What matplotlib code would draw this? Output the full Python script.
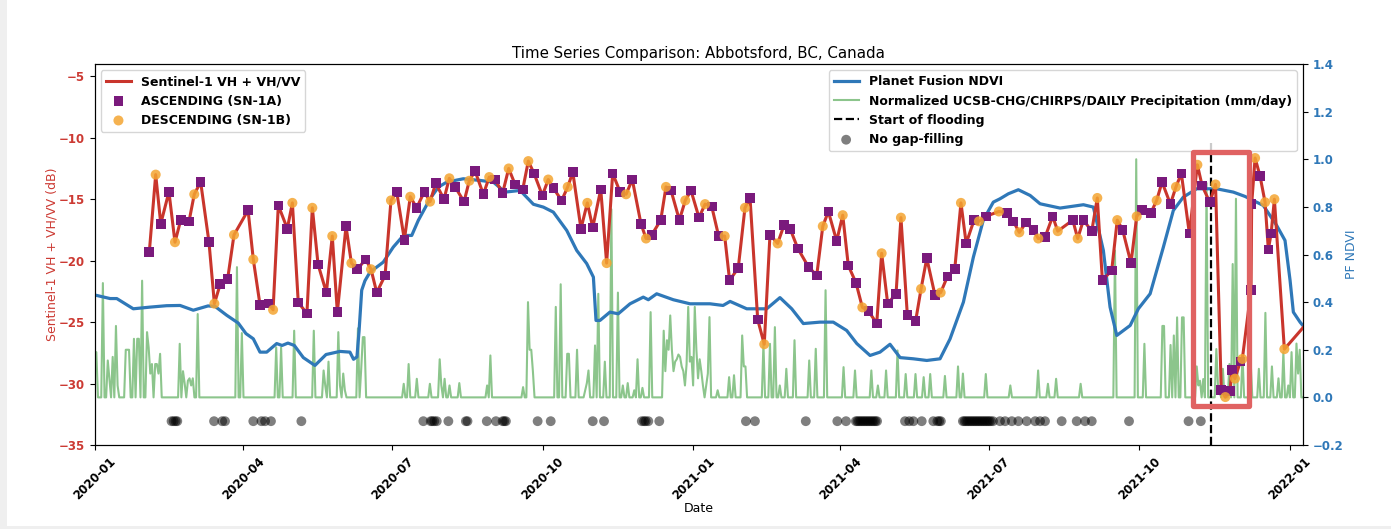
import numpy as np
import pandas as pd
import matplotlib
matplotlib.use("Agg")
import matplotlib.pyplot as plt
import matplotlib.dates as mdates
from matplotlib.patches import Rectangle

START = pd.Timestamp("2020-01-01")


def to_dates(days):
    """Convert day offsets (days since 2020-01-01) to timestamps."""
    return START + pd.to_timedelta(np.asarray(days, dtype=float), unit="D")


# ---------------- Sentinel-1 backscatter (VH + VH/VV, dB) ----------------
# acquisition day (days since 2020-01-01), value, orbit pass (A = ascending, D = descending)
s1_day = [
    33.4, 37.3, 40.4, 45.4, 49.1, 52.6, 57.7, 60.9, 64.8, 69.9,
    73.2, 76.8, 81.3, 85.2, 93.8, 97.0, 101.1, 106.2, 109.1, 112.3,
    117.8, 120.9, 124.5, 129.8, 133.1, 136.6, 141.7, 145.3, 148.4, 153.7,
    157.0, 160.6, 165.7, 169.0, 172.5, 177.6, 181.2, 184.7, 189.4, 193.0,
    196.9, 201.6, 205.1, 208.6, 213.6, 216.9, 220.4, 225.9, 229.1, 232.6,
    237.7, 241.3, 244.8, 249.5, 253.2, 257.1, 261.8, 265.2, 268.7, 273.8,
    277.4, 280.5, 285.6, 289.3, 292.4, 297.4, 301.3, 304.6, 309.5, 313.1,
    316.8, 321.3, 325.0, 328.8, 334.1, 337.2, 340.7, 346.2, 349.4, 352.5,
    357.6, 361.2, 364.7, 369.6, 373.3, 377.4, 381.6, 385.3, 388.3, 393.6,
    397.7, 400.8, 405.5, 409.5, 413.0, 417.7, 421.6, 425.3, 430.0, 436.5,
    441.6, 445.3, 448.7, 453.8, 457.5, 460.9, 465.6, 469.5, 473.2, 478.3,
    481.3, 485.0, 490.1, 493.1, 497.0, 502.1, 505.4, 508.9, 513.9, 517.4,
    521.5, 526.0, 529.8, 533.0, 537.8, 540.8, 545.0, 553.0, 557.8, 561.8,
    565.5, 569.6, 574.1, 577.1, 581.2, 585.9, 589.0, 598.2, 601.2, 604.7,
    609.8, 613.2, 616.3, 622.0, 625.4, 628.7, 633.8, 637.3, 640.4, 646.0,
    649.5, 652.8, 657.9, 661.3, 664.6, 669.5, 674.4, 677.3, 682.0, 685.5,
    689.0, 691.5, 694.4, 695.4, 697.4, 700.7, 701.9, 707.2, 707.6, 709.7,
    712.7, 715.8, 717.8, 719.5, 721.5, 727.6, 742.0,
]
s1_db = [
    -19.3, -13.0, -17.0, -14.4, -18.5, -16.7, -16.8, -14.6, -13.6, -18.5,
    -23.5, -21.9, -21.5, -17.9, -15.9, -19.9, -23.6, -23.5, -24.0, -15.5,
    -17.4, -15.3, -23.4, -24.3, -15.7, -20.3, -22.6, -18.0, -24.2, -17.2,
    -20.2, -20.7, -19.9, -20.7, -22.6, -21.2, -15.1, -14.4, -18.3, -14.8,
    -15.7, -14.4, -15.2, -13.7, -15.0, -13.3, -14.0, -15.2, -13.5, -12.7,
    -14.6, -13.2, -13.4, -14.5, -12.5, -13.8, -14.2, -11.9, -12.9, -14.7,
    -13.4, -14.1, -15.1, -14.0, -12.8, -17.4, -15.3, -17.3, -14.2, -20.2,
    -12.9, -14.4, -14.6, -13.4, -17.0, -18.2, -17.9, -16.7, -14.0, -14.3,
    -16.7, -15.1, -14.3, -16.5, -15.4, -15.6, -18.0, -18.0, -21.6, -20.6,
    -15.7, -14.9, -24.8, -26.8, -17.9, -18.6, -17.1, -17.4, -19.0, -20.5,
    -21.2, -17.2, -16.0, -18.4, -16.3, -20.4, -21.8, -23.8, -24.1, -25.1,
    -19.4, -23.5, -22.7, -16.5, -24.4, -24.9, -22.3, -19.8, -22.8, -22.6,
    -21.3, -20.7, -15.3, -18.6, -16.7, -16.8, -16.4, -16.0, -16.1, -16.8,
    -17.7, -16.9, -17.5, -18.2, -18.1, -16.4, -17.6, -16.7, -18.2, -16.7,
    -17.6, -14.9, -21.6, -20.8, -16.7, -17.5, -20.2, -16.4, -15.9, -16.1,
    -15.1, -13.6, -15.4, -14.0, -12.9, -17.8, -12.2, -13.9, -15.25, -13.8,
    -30.5, -31.1, -30.6, -28.9, -29.6, -28.2, -28.0, -22.4, -15.4, -11.65,
    -13.1, -15.25, -19.1, -17.8, -15.0, -27.2, -25.0,
]
s1_pass = list(
    "ADAADAADAA" "DAADADAADA" "ADAADAADAA" "DAADAADAAD"
    "AADAADAADA" "ADAADAADAA" "DAADAADAAD" "AADAADAADA"
    "ADAADAADAA" "DAADADAAAA" "ADAADAADAA" "DAADAADAAD"
    "AADAADADAA" "DAADAADADA" "ADAADAADAA" "DAADAADAAD"
    "ADAADADAAD" "ADAADDA"
)

# ---------------- Planet Fusion NDVI ----------------
ndvi_day = [
    0, 9.4, 13.5, 23.6, 33.8, 44.0, 52.2, 60.3, 69.3, 73.6,
    80.7, 87.8, 92.5, 97.0, 101.1, 105.2, 111.3, 114.6, 118.2, 122.1,
    127.6, 134.7, 141.5, 150.0, 156.1, 158.3, 160.4, 161.7, 163.3, 165.3,
    168.4, 176.5, 182.6, 188.8, 193.9, 197.9, 205.1, 210.2, 215.3, 225.4,
    235.7, 243.8, 251.0, 260.2, 268.3, 274.4, 280.5, 288.7, 294.8, 300.9,
    305.0, 306.6, 309.0, 315.1, 320.2, 327.4, 335.5, 338.6, 343.7, 353.9,
    364.1, 376.3, 384.3, 388.6, 398.8, 411.0, 419.1, 426.3, 433.4, 443.6,
    451.7, 459.9, 466.1, 474.2, 480.3, 486.4, 492.6, 500.7, 508.9, 517.0,
    523.1, 531.3, 537.4, 543.5, 549.6, 553.7, 558.8, 564.9, 572.1, 578.2,
    590.4, 604.7, 610.8, 616.9, 621.0, 625.1, 633.3, 638.3, 645.5, 653.6,
    659.7, 665.8, 674.0, 686.2, 696.4, 703.5, 714.7, 722.9, 728.0, 731.1,
    733.1, 737.2, 739.7,
]
ndvi_val = [
    0.430, 0.415, 0.415, 0.372, 0.379, 0.385, 0.386, 0.366, 0.384, 0.382,
    0.345, 0.312, 0.268, 0.246, 0.190, 0.190, 0.226, 0.218, 0.228, 0.218,
    0.167, 0.134, 0.180, 0.193, 0.190, 0.160, 0.170, 0.280, 0.450, 0.490,
    0.526, 0.568, 0.631, 0.680, 0.680, 0.743, 0.834, 0.883, 0.904, 0.918,
    0.911, 0.904, 0.862, 0.869, 0.811, 0.799, 0.778, 0.701, 0.617, 0.562,
    0.505, 0.323, 0.323, 0.358, 0.351, 0.393, 0.421, 0.410, 0.435, 0.410,
    0.393, 0.393, 0.386, 0.403, 0.372, 0.372, 0.419, 0.372, 0.310, 0.316,
    0.316, 0.281, 0.226, 0.176, 0.190, 0.223, 0.167, 0.162, 0.155, 0.162,
    0.245, 0.400, 0.589, 0.745, 0.820, 0.834, 0.855, 0.872, 0.848, 0.813,
    0.795, 0.809, 0.799, 0.617, 0.379, 0.260, 0.302, 0.372, 0.435, 0.631,
    0.785, 0.841, 0.876, 0.876, 0.862, 0.844, 0.806, 0.722, 0.659, 0.491,
    0.358, 0.316, 0.295,
]

# ---------------- Normalized CHIRPS daily precipitation (rain days) ----------------
rain_day = [
    0, 1, 5, 8, 9, 11, 13, 14, 19, 20, 21, 24, 26, 27, 29, 32, 33, 34, 35, 37,
    38, 39, 40, 52, 54, 55, 57, 58, 59, 60, 63, 87, 90, 111, 114, 122, 134, 140,
    141, 143, 149, 150, 152, 153, 161, 163, 164, 165, 189, 192, 197, 205, 211,
    212, 214, 217, 223, 240, 242, 262, 265, 266, 267, 268, 282, 285, 289, 290,
    295, 300, 301, 302, 306, 308, 312, 316, 320, 323, 326, 330, 332, 335, 340,
    348, 349, 350, 351, 352, 353, 354, 355, 356, 357, 358, 359, 360, 361, 362,
    363, 364, 365, 366, 367, 368, 369, 370, 371, 372, 374, 375, 376, 381, 388,
    391, 396, 397, 398, 409, 413, 416, 419, 423, 428, 437, 441, 447, 458, 465,
    475, 479, 484, 491, 496, 502, 507, 511, 520, 528, 531, 545, 560, 577, 583,
    588, 603, 624, 637, 642, 653, 654, 658, 660, 662, 665, 666, 674, 675, 676,
    678, 680, 686, 687, 688, 690, 694, 696, 698, 702, 707, 712, 716, 720, 724,
    727, 730, 732, 735, 736, 737,
]
rain_val = [
    0.19, 0.19, 0.48, 0.155, 0.08, 0.17, 0.30, 0.05, 0.20, 0.20, 0.20, 0.246,
    0.246, 0.246, 0.49, 0.274, 0.21, 0.10, 0.14, 0.14, 0.14, 0.10, 0.183, 0.225,
    0.11, 0.06, 0.07, 0.08, 0.05, 0.08, 0.35, 0.547, 0.27, 0.21, 0.21, 0.28,
    0.28, 0.113, 0.05, 0.15, 0.274, 0.05, 0.10, 0.03, 0.29, 0.12, 0.253, 0.253,
    0.057, 0.14, 0.078, 0.057, 0.16, 0.05, 0.078, 0.05, 0.06, 0.05, 0.176,
    0.043, 0.40, 0.20, 0.20, 0.11, 0.38, 0.475, 0.183, 0.183, 0.20, 0.03, 0.06,
    0.113, 0.218, 0.435, 0.15, 0.79, 0.44, 0.05, 0.06, 0.03, 0.16, 0.04, 0.358,
    0.28, 0.11, 0.24, 0.20, 0.344, 0.20, 0.11, 0.15, 0.16, 0.18, 0.17, 0.13,
    0.11, 0.05, 0.14, 0.38, 0.15, 0.17, 0.05, 0.38, 0.20, 0.08, 0.16, 0.11,
    0.05, 0.05, 0.10, 0.337, 0.03, 0.085, 0.093, 0.26, 0.13, 0.13, 0.225,
    0.225, 0.295, 0.05, 0.12, 0.24, 0.155, 0.204, 0.45, 0.127, 0.113, 0.113,
    0.05, 0.113, 0.197, 0.098, 0.098, 0.085, 0.098, 0.09, 0.13, 0.10, 0.098,
    0.05, 0.113, 0.057, 0.078, 0.057, 0.617, 1.0, 0.225, 0.30, 0.30, 0.22,
    0.26, 0.336, 0.336, 0.336, 0.13, 0.05, 0.07, 0.077, 0.90, 0.203, 0.05,
    0.02, 0.12, 0.14, 0.56, 0.834, 0.18, 0.148, 0.12, 0.355, 0.13, 0.08, 0.19,
    0.05, 0.19, 0.226, 0.10, 0.20,
]
rain_series_days = 740

# ---------------- Acquisitions without gap-filling ----------------
raw_day = [
    47.0, 48.3, 49.5, 50.5, 73.0, 78.0, 79.7, 97.0, 102.0, 104.2, 107.8, 126.4,
    201.0, 205.5, 206.5, 207.7, 209.2, 216.3, 227.0, 228.0, 239.8, 245.4,
    249.5, 250.5, 251.5, 270.9, 278.9, 304.6, 311.5, 334.6, 336.0, 337.0,
    338.6, 345.3, 398.3, 403.8, 434.9, 454.2, 459.5, 465.5, 466.5, 467.5,
    468.5, 469.5, 470.5, 471.5, 472.5, 473.5, 474.5, 475.5, 476.5, 477.5,
    478.5, 495.6, 498.2, 500.7, 505.8, 512.9, 515.4, 516.5, 517.5, 531.0,
    532.0, 533.0, 534.0, 535.0, 536.0, 537.0, 538.0, 539.0, 540.0, 541.0,
    542.0, 543.0, 544.0, 545.0, 546.0, 547.0, 548.0, 549.4, 553.7, 556.8,
    560.9, 564.9, 570.0, 575.2, 578.2, 581.2, 591.4, 600.6, 605.7, 609.8,
    632.6, 669.0, 676.5,
]
raw_level = -0.1

flood_start = "2021-11-14"
flood_line_top = 1.07
box_start, box_end = 671.6, 706.0      # highlighted window (days since 2020-01-01)
box_low, box_high = -31.83, -11.14     # dB

x_left, x_right = 0.0, 739.0

# ---------------- colours ----------------
RED = "#c9352c"
RED_LABEL = "#cc3a33"
BLUE = "#2f78b8"
PURPLE = "#7a1a7c"
ORANGE = "#f4a531"
GREEN = "green"

TICK_SIZE = 8.5
LABEL_SIZE = 9
LEGEND_SIZE = 9

# ---------------- figure ----------------
fig = plt.figure(figsize=(13.91, 5.29), dpi=100)
ax = fig.add_axes([94.7 / 1391, 1 - 445 / 529, (1303 - 94.7) / 1391, (445 - 64) / 529])
ax2 = ax.twinx()
ax.set_zorder(ax2.get_zorder() + 1)
ax.patch.set_visible(False)

# light frame of the page
fig.patches.append(Rectangle((0, 0), 7 / 1391, 1, transform=fig.transFigure,
                             facecolor="#efefef", edgecolor="none", zorder=-5))
fig.patches.append(Rectangle((0, 0), 1, 3 / 529, transform=fig.transFigure,
                             facecolor="#efefef", edgecolor="none", zorder=-5))

# right axis: NDVI, precipitation, flood marker, raw acquisitions
rain = np.zeros(rain_series_days)
rain[np.asarray(rain_day)] = rain_val
rain_dates = to_dates(np.arange(rain_series_days))

ax2.plot(to_dates(ndvi_day), ndvi_val, color=BLUE, lw=2.3, label="Planet Fusion NDVI", zorder=3)
ax2.plot(rain_dates, rain, color=GREEN, alpha=0.45, lw=1.5,
         label="Normalized UCSB-CHG/CHIRPS/DAILY Precipitation (mm/day)", zorder=2)
fd = pd.Timestamp(flood_start)
ax2.plot([fd, fd], [-0.2, flood_line_top], color="black", ls="--", lw=1.6,
         label="Start of flooding", zorder=4)
ax2.scatter(to_dates(raw_day), np.full(len(raw_day), raw_level), s=50, color="black",
            alpha=0.5, edgecolors="none", label="No gap-filling", zorder=3)

# left axis: Sentinel-1
s1_dates = to_dates(s1_day)
s1_db_arr = np.asarray(s1_db)
is_asc = np.array([p == "A" for p in s1_pass])
ax.plot(s1_dates, s1_db_arr, color=RED, lw=2.2, label="Sentinel-1 VH + VH/VV", zorder=3)
ax.scatter(s1_dates[is_asc], s1_db_arr[is_asc], marker="s", s=48, color=PURPLE,
           edgecolors="none", label="ASCENDING (SN-1A)", zorder=4)
ax.scatter(s1_dates[~is_asc], s1_db_arr[~is_asc], marker="o", s=52, color=ORANGE,
           alpha=0.85, edgecolors="none", label="DESCENDING (SN-1B)", zorder=4)

# highlighted flood window
bx0 = mdates.date2num(to_dates([box_start])[0])
bx1 = mdates.date2num(to_dates([box_end])[0])
ax.add_patch(Rectangle((bx0, box_low), bx1 - bx0, box_high - box_low, fill=False,
                       edgecolor="#e06262", lw=3.8, joinstyle="round",
                       clip_on=False, zorder=10))

# axes limits and ticks
ax.set_xlim(to_dates([x_left])[0], to_dates([x_right])[0])
ax.set_ylim(-35, -4)
ax.set_yticks(np.arange(-35, -4, 5))
ax2.set_ylim(-0.2, 1.4)
ax2.set_yticks(np.round(np.arange(-0.2, 1.41, 0.2), 1))

ax.xaxis.set_major_locator(mdates.MonthLocator(bymonth=[1, 4, 7, 10]))
ax.xaxis.set_major_formatter(mdates.DateFormatter("%Y-%m"))
for lab in ax.get_xticklabels():
    lab.set_rotation(45)
    lab.set_fontweight("bold")
    lab.set_fontsize(TICK_SIZE)
for lab in ax.get_yticklabels():
    lab.set_color(RED_LABEL)
    lab.set_fontweight("bold")
    lab.set_fontsize(TICK_SIZE)
for lab in ax2.get_yticklabels():
    lab.set_color(BLUE)
    lab.set_fontweight("bold")
    lab.set_fontsize(TICK_SIZE)

ax.set_xlabel("Date", fontsize=LABEL_SIZE, labelpad=0)
ax.set_ylabel("Sentinel-1 VH + VH/VV (dB)", color=RED_LABEL, fontsize=LABEL_SIZE, labelpad=0)
ax2.set_ylabel("PF NDVI", color=BLUE, fontsize=LABEL_SIZE, labelpad=1)
ax.set_title("Time Series Comparison: Abbotsford, BC, Canada", fontsize=10.8, pad=4.5)

leg_font = {"weight": "bold", "size": LEGEND_SIZE}
ax.legend(loc="upper left", prop=leg_font)
ax2.legend(loc="upper right", prop=leg_font)

fig.savefig("out.png", dpi=100)
